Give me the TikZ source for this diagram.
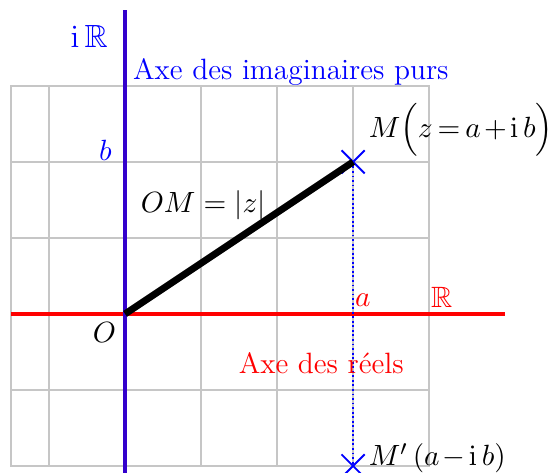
\documentclass[tikz,border=0pt]{standalone}
\usepackage{amsmath}
\usepackage{amssymb}
\usepackage{xcolor}
\usetikzlibrary{shapes.misc,positioning,calc}

\definecolor{violetaxe}{RGB}{51,0,204}

\begin{document}
\begin{tikzpicture}[
  font=\fontsize{11}{13}\selectfont,
  grille/.style={gray!45, line width=0.7pt},
  axere/.style={red, line width=1.4pt},
  axeim/.style={violetaxe, line width=1.6pt},
  croix/.style={draw=blue, cross out, line width=0.7pt,
                minimum size=0.28cm, inner sep=0pt},
  etiq/.style={inner sep=0pt},
  module/.style={black, line width=2.6pt}
]
\useasboundingbox (-1.645,-2.08) rectangle (5.63,4.13);

% Quadrillage
\draw[grille] (-1.5,-2) rectangle (4,3);
\draw[grille] (-1.5,-2) grid (4,3);

% Points
\coordinate (O) at (0,0);
\node[croix] (M) at (3,2) {};
\node[croix] (Mp) at (3,-2) {};

% Axes
\coordinate (xg) at (-1.5,0);
\coordinate (xd) at (5,0);
\coordinate (yb) at (0,-2.1);
\coordinate (yh) at (0,4);
\draw[axere] (xg) -- (xd);
\draw[axeim] (yb) -- (yh);

% Segments
\draw[blue, densely dotted, line width=0.7pt] (M.center) -- (Mp.center);
\draw[module] (O) -- (M.center);

% Etiquettes
\node[etiq, text=blue, anchor=base east, font=\large] (iR) at (-0.22,3.5) {$\mathrm{i}\,\mathbb{R}$};
\node[etiq, text=blue, anchor=base west] (axeI) at (0.1,3.08) {Axe des imaginaires purs};
\node[etiq, text=blue, anchor=base east] (b) at (-0.17,2.02) {$b$};
\node[etiq, anchor=base] (om) at (1.03,1.34) {$OM=|z|$};
\node[etiq, anchor=base] (o) at (-0.27,-0.38) {$O$};
\node[etiq, text=red, anchor=base west] (a) at (3.02,0.1) {$a$};
\node[etiq, text=red, anchor=base west] (R) at (4.02,0.09) {$\mathbb{R}$};
\node[etiq, text=red, anchor=base west] (axeR) at (1.49,-0.78) {Axe des réels};
\node[etiq, anchor=base west] (lM) at (3.2,2.32)
  {$\thickmuskip=3mu \medmuskip=2mu M\Big(z=a+\mathrm{i}\,b\Big)$};
\node[etiq, anchor=base west] (lMp) at (3.2,-2.0)
  {$\medmuskip=2mu M'\,(a-\mathrm{i}\,b)$};

\end{tikzpicture}
\end{document}
